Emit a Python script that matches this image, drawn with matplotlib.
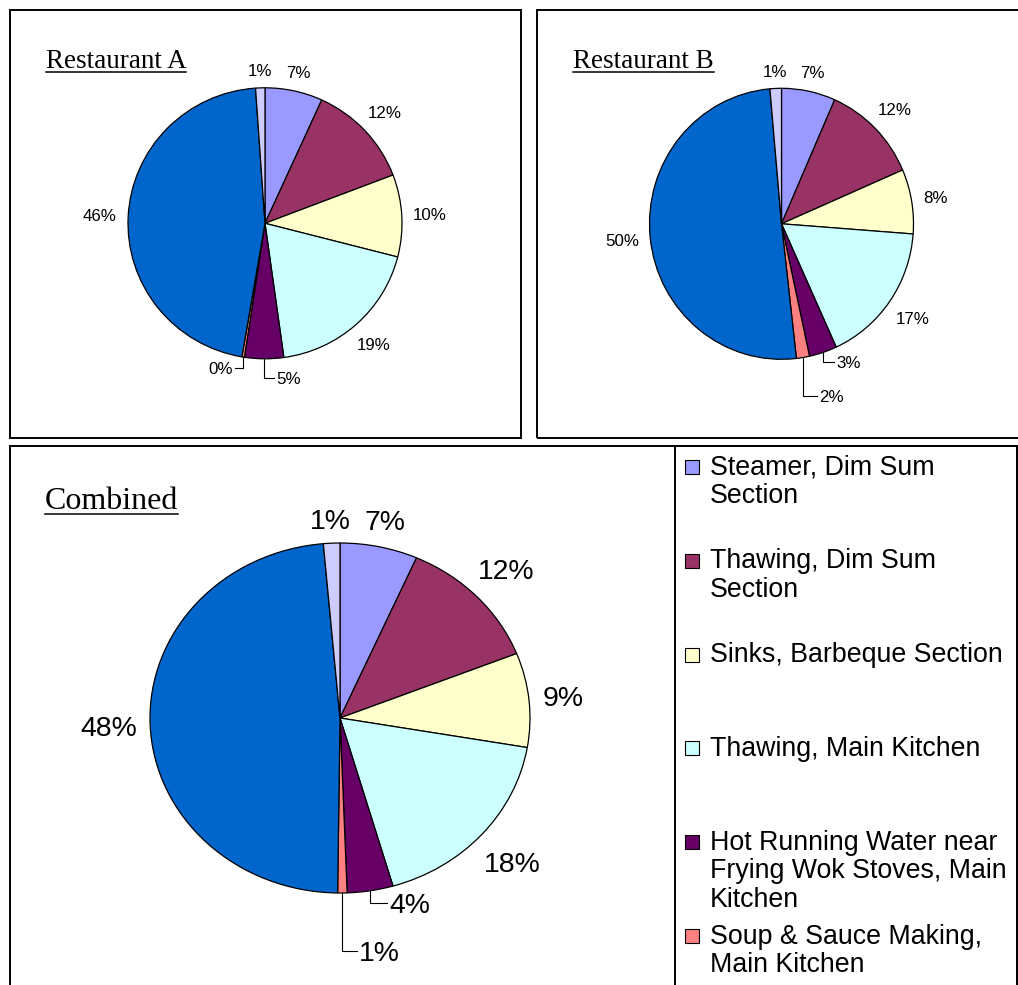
import matplotlib
matplotlib.use("Agg")
import matplotlib.pyplot as plt
from matplotlib.patches import Rectangle
from matplotlib.lines import Line2D
import numpy as np

# ---------------- data ----------------
categories = [
    "Steamer, Dim Sum Section",
    "Thawing, Dim Sum Section",
    "Sinks, Barbeque Section",
    "Thawing, Main Kitchen",
    "Hot Running Water near Frying Wok Stoves, Main Kitchen",
    "Soup & Sauce Making, Main Kitchen",
    None,   # legend entry cut off in the reference
    None,   # legend entry cut off in the reference
]
legend_lines = [
    ["Steamer, Dim Sum", "Section"],
    ["Thawing, Dim Sum", "Section"],
    ["Sinks, Barbeque Section"],
    ["Thawing, Main Kitchen"],
    ["Hot Running Water near", "Frying Wok Stoves, Main", "Kitchen"],
    ["Soup & Sauce Making,", "Main Kitchen"],
]
colors = ["#9999FF", "#993366", "#FFFFCC", "#CCFFFF",
          "#660066", "#FF8080", "#0066CC", "#CCCCFF"]

restaurant_a = [6.8, 12.4, 9.8, 18.8, 4.6, 0.3, 46.2, 1.1]
restaurant_b = [6.6, 11.9, 7.7, 17.0, 3.4, 1.6, 50.4, 1.4]
combined     = [6.6, 12.4, 8.7, 17.8, 3.9, 0.8, 48.4, 1.4]

titles = ["Restaurant A", "Restaurant B", "Combined"]

# ---------------- layout ----------------
W, H = 1018, 985
fig = plt.figure(figsize=(W / 100, H / 100), dpi=100)
fig.patch.set_facecolor("white")

SANS = ["Liberation Sans", "Arial", "DejaVu Sans"]
SERIF = ["Liberation Serif", "Times New Roman", "DejaVu Serif"]


def fx(x):
    return x / W


def fy(y):
    return 1 - y / H


def add_box(x0, y0, x1, y1, lw=1.4):
    fig.add_artist(Rectangle((fx(x0), fy(y1)), fx(x1) - fx(x0), fy(y0) - fy(y1),
                             transform=fig.transFigure, fill=False,
                             edgecolor="black", linewidth=lw, clip_on=False))


# panel borders
add_box(9.5, 10, 521, 437.7)
add_box(537, 10, 1040, 437.7)
add_box(9.5, 445.7, 1016.7, 1010)
add_box(675, 445.7, 1016.7, 1010)

renderer = fig.canvas.get_renderer()


def draw_pie(values, cx, cy, rx, ry, fontsize, leaders, pad):
    ax = fig.add_axes([fx(cx - rx), fy(cy + ry), (2 * rx) / W, (2 * ry) / H])
    wedges, _ = ax.pie(values, colors=colors, startangle=90, counterclock=False,
                       radius=1.0, wedgeprops=dict(edgecolor="black", linewidth=0.9))
    ax.set_aspect("auto")
    ax.set_xlim(-1, 1)
    ax.set_ylim(-1, 1)
    ax.axis("off")
    total = float(sum(values))
    gap = 2.5 / rx
    fs_px = fontsize * 100 / 72.0
    for i, (w, v) in enumerate(zip(wedges, values)):
        pct = f"{v / total * 100:.0f}%"
        mid = np.deg2rad((w.theta1 + w.theta2) / 2)
        ex, ey = np.cos(mid), np.sin(mid)
        if i in leaders:
            xe, ye, side = leaders[i]
            ax.add_line(Line2D([ex, ex, xe], [ey, ye, ye], color="black",
                               linewidth=0.8, clip_on=False))
            if side == "left":
                ax.text(xe + gap, ye, pct, ha="left", va="center_baseline",
                        fontsize=fontsize, family=SANS, clip_on=False)
            else:
                ax.text(xe - gap, ye, pct, ha="right", va="center_baseline",
                        fontsize=fontsize, family=SANS, clip_on=False)
        else:
            t = ax.text(0, 0, pct, ha="center", va="center_baseline",
                        fontsize=fontsize, family=SANS, clip_on=False)
            half_w = t.get_window_extent(renderer).width / 2
            half_h = 0.36 * fs_px
            off = pad + abs(ex) * half_w + abs(ey) * half_h
            t.set_position((ex + ex * off / rx, ey + ey * off / ry))
    return ax


draw_pie(restaurant_a, 265, 223.3, 137, 135.5, 12.2,
         {4: (0.064, -1.14, "left"), 5: (-0.219, -1.07, "right")}, pad=11)
draw_pie(restaurant_b, 781.5, 223.8, 132, 135.5, 12.2,
         {4: (0.394, -1.018, "left"), 5: (0.268, -1.269, "left")}, pad=11)
draw_pie(combined, 340, 718, 190, 175, 20.4,
         {4: (0.246, -1.059, "left"), 5: (0.088, -1.329, "left")}, pad=13)

# titles with underline
title_specs = [(45.5, 68.3, 71.5, 19.5), (573.3, 68.3, 71.5, 19.5), (45, 509.5, 513.5, 23)]
title_artists = []
for t, (x, yb, yu, fs) in zip(titles, title_specs):
    ta = fig.text(fx(x), fy(yb), t, ha="left", va="baseline", fontsize=fs, family=SERIF)
    title_artists.append((ta, yu))

# legend (drawn manually to reproduce even entry spacing)
base, step, line_step = 474.5, 93.8, 28.6
for i, lines in enumerate(legend_lines):
    y0 = base + i * step
    fig.add_artist(Rectangle((fx(685), fy(y0 - 0.5)), 14 / W, 14 / H,
                             transform=fig.transFigure, facecolor=colors[i],
                             edgecolor="black", linewidth=0.8))
    for j, ln in enumerate(lines):
        fig.text(fx(709.5), fy(y0 + j * line_step), ln, ha="left", va="baseline",
                 fontsize=19.3, family=SANS)

fig.canvas.draw()
for ta, yu in title_artists:
    bb = ta.get_window_extent()
    fig.add_artist(Line2D([bb.x0 / W, bb.x1 / W], [fy(yu), fy(yu)],
                          transform=fig.transFigure, color="black", linewidth=1.1))

fig.savefig("out.png", dpi=100)
